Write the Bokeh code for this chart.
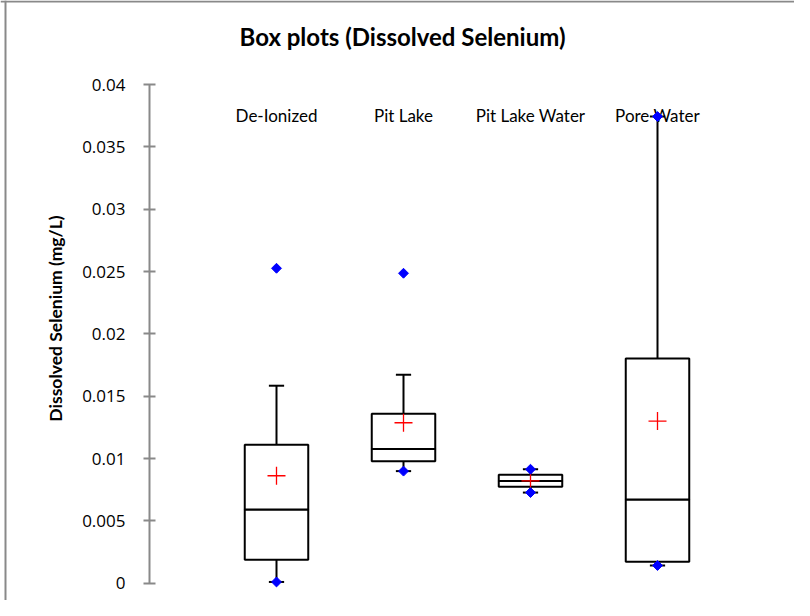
import numpy as np
from bokeh.plotting import figure
from bokeh.models import LinearAxis, FixedTicker, Range1d, Span, Label
from bokeh.core.properties import value
from bokeh.embed import file_html
from bokeh.resources import INLINE

# ---- data ----
categories = ["De-Ionized", "Pit Lake", "Pit Lake Water", "Pore Water"]
q1 = [0.00188, 0.00979, 0.00773, 0.00172]
median = [0.00592, 0.01076, 0.00819, 0.00672]
q3 = [0.01111, 0.01360, 0.00869, 0.01803]
lower_whisker = [0.00010, 0.00899, 0.00727, 0.00142]
upper_whisker = [0.01584, 0.01672, 0.00914, 0.03743]
mean = [0.00862, 0.01287, 0.00821, 0.01300]
minimum = [0.00010, 0.00899, 0.00727, 0.00142]
maximum = [0.02526, 0.02486, 0.00914, 0.03743]
y_ticks = [0, 0.005, 0.01, 0.015, 0.02, 0.025, 0.03, 0.035, 0.04]
y_tick_labels = ["0", "0.005", "0.01", "0.015", "0.02", "0.025", "0.03", "0.035", "0.04"]

# ---- geometry ----
W, H = 794, 600
px_x = 127.0          # pixels per category step
axis_px = 149.0       # canvas x of the value axis
px_y = 12467.5        # pixels per unit of concentration
zero_py = 582.7       # canvas y (from top) of value 0
x_start = -axis_px / px_x
x_end = (W - axis_px) / px_x
y_start = -(H - zero_py) / px_y
y_end = zero_py / px_y

FONT = "Lato"
TICK_FONT = "Open Sans"
GRAY = "#898989"

p = figure(width=W, height=H, output_backend="svg", toolbar_location=None,
           x_range=Range1d(x_start, x_end), y_range=Range1d(y_start, y_end),
           x_axis_location=None, y_axis_location=None, min_border=0,
           outline_line_color=None, background_fill_color="white",
           border_fill_color="white")
p.grid.visible = False

# chart border (top and left only visible in the reference)
p.add_layout(Span(location=x_start + 5.0 / px_x, dimension="height",
                  line_color=GRAY, line_width=2))
p.add_layout(Span(location=y_end - 1.0 / px_y, dimension="width",
                  line_color=GRAY, line_width=2))

yaxis = LinearAxis(fixed_location=0, bounds=(0, 0.04),
                   ticker=FixedTicker(ticks=y_ticks),
                   major_label_overrides=dict(zip(y_ticks, y_tick_labels)))
yaxis.axis_line_color = GRAY
yaxis.axis_line_width = 2
yaxis.major_tick_line_color = GRAY
yaxis.major_tick_line_width = 2
yaxis.major_tick_in = 6
yaxis.major_tick_out = 6
yaxis.minor_tick_line_color = None
yaxis.major_label_standoff = 18
yaxis.major_label_text_font = TICK_FONT
yaxis.major_label_text_font_size = "17px"
yaxis.major_label_text_color = "black"
p.add_layout(yaxis, "left")

# value-axis title
p.add_layout(Label(x=55, y=H - 318, x_units="screen", y_units="screen",
                   text="Dissolved Selenium (mg/L)", angle=np.pi / 2,
                   text_align="center", text_baseline="middle",
                   text_font=FONT, text_font_style="bold",
                   text_font_size="17.5px", text_color="black"))

xpos = np.arange(1, len(categories) + 1, dtype=float)
box_w = 0.5
cap_half = 0.06

# category labels at the top of the plot
label_y = (zero_py - 115.3) / px_y
p.text(x=xpos, y=[label_y] * len(categories), text=categories,
       text_align="center", text_baseline="middle",
       text_font=value(FONT), text_font_size="17px", text_color="black")

# whiskers
p.segment(x0=xpos, y0=q3, x1=xpos, y1=upper_whisker, line_color="black", line_width=2)
p.segment(x0=xpos, y0=q1, x1=xpos, y1=lower_whisker, line_color="black", line_width=2)
p.segment(x0=xpos - cap_half, y0=upper_whisker, x1=xpos + cap_half, y1=upper_whisker,
          line_color="black", line_width=2)
p.segment(x0=xpos - cap_half, y0=lower_whisker, x1=xpos + cap_half, y1=lower_whisker,
          line_color="black", line_width=2)

# boxes
p.vbar(x=xpos, width=box_w, bottom=q1, top=median, fill_color="white",
       line_color="black", line_width=2)
p.vbar(x=xpos, width=box_w, bottom=median, top=q3, fill_color="white",
       line_color="black", line_width=2)

# means
p.scatter(x=xpos, y=mean, marker="cross", size=18, line_color="red", line_width=1.3)

# minimum / maximum points
px_pts = np.concatenate([xpos, xpos])
py_pts = np.concatenate([minimum, maximum])
p.scatter(x=px_pts, y=py_pts, marker="square", angle=np.pi / 4, size=7,
          fill_color="blue", line_color="blue")

p.add_layout(Label(x=402, y=H - 36, x_units="screen", y_units="screen",
                   text="Box plots (Dissolved Selenium)", text_align="center",
                   text_baseline="middle", text_font=FONT, text_font_style="bold",
                   text_font_size="24px", text_color="black"))

open("out.html", "w").write(file_html(p, INLINE))
